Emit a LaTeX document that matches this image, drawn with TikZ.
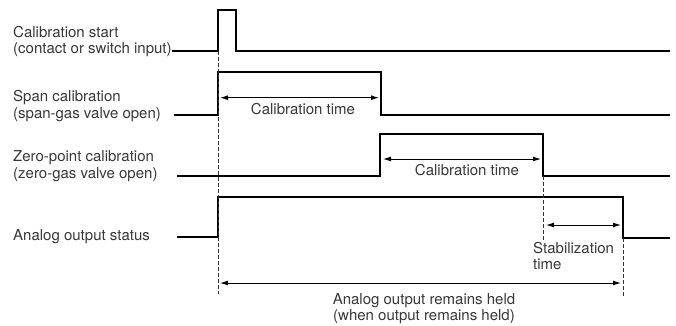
\documentclass[tikz,border=0pt]{standalone}
\usepackage{fontspec}
\setmainfont{TeX Gyre Heros}
\usetikzlibrary{arrows.meta}
\begin{document}
\begin{tikzpicture}[x=1pt,y=-1pt,
  signal/.style={line width=2pt,line join=miter,black},
  guide/.style={line width=0.9pt,dash pattern=on 4pt off 2pt,black!80},
  span/.style={line width=1pt,black,{Latex[length=8pt,width=5pt]}-{Latex[length=8pt,width=5pt]}},
  lbl/.style={font=\fontsize{15}{16.5}\selectfont,text=black!78,inner sep=0pt,align=left},
  clbl/.style={font=\fontsize{15}{16.5}\selectfont,text=black!78,inner sep=0pt,align=center}]
\useasboundingbox[fill=white] (0,0) rectangle (676,325);
% coordinates
\coordinate (s1a) at (172,51);  \coordinate (s1b) at (218,51);
\coordinate (s1c) at (218,10);  \coordinate (s1d) at (236,10);
\coordinate (s1e) at (236,51);  \coordinate (s1f) at (670,51);
\coordinate (s2a) at (174,115); \coordinate (s2b) at (218,115);
\coordinate (s2c) at (218,72);  \coordinate (s2d) at (381,72);
\coordinate (s2e) at (381,115); \coordinate (s2f) at (670,115);
\coordinate (s3a) at (177,175.5); \coordinate (s3b) at (380,175.5);
\coordinate (s3c) at (380,134);   \coordinate (s3d) at (543,134);
\coordinate (s3e) at (543,175.5); \coordinate (s3f) at (670,175.5);
\coordinate (s4a) at (177,237); \coordinate (s4b) at (218,237);
\coordinate (s4c) at (218,197); \coordinate (s4d) at (623,197);
\coordinate (s4e) at (623,238); \coordinate (s4f) at (670,238);
% signals
\draw[signal] (s1a) -- (s1b) -- (s1c) -- (s1d) -- (s1e) -- (s1f);
\draw[signal] (s2a) -- (s2b) -- (s2c) -- (s2d) -- (s2e) -- (s2f);
\draw[signal] (s3a) -- (s3b) -- (s3c) -- (s3d) -- (s3e) -- (s3f);
\draw[signal] (s4a) -- (s4b) -- (s4c) -- (s4d) -- (s4e) -- (s4f);
% guides
\coordinate (g1a) at (218,51);   \coordinate (g1b) at (218,294);
\coordinate (g2a) at (543,176);  \coordinate (g2b) at (543,242);
\coordinate (g3a) at (623,238);  \coordinate (g3b) at (623,297);
\draw[guide] (g1a) -- (g1b);
\draw[guide] (g2a) -- (g2b);
\draw[guide] (g3a) -- (g3b);
% arrows
\coordinate (a1l) at (220,97.7); \coordinate (a1r) at (379,97.7);
\coordinate (a2l) at (383,159);  \coordinate (a2r) at (541,159);
\coordinate (a3l) at (546,225);  \coordinate (a3r) at (621,225);
\coordinate (a4l) at (220,283);  \coordinate (a4r) at (621,283);
\draw[span] (a1l) -- (a1r);
\draw[span] (a2l) -- (a2r);
\draw[span] (a3l) -- (a3r);
\draw[span] (a4l) -- (a4r);
% labels
\node[lbl,anchor=west] (l1) at (13,41.5) {Calibration start\\(contact or switch input)};
\node[lbl,anchor=west] (l2) at (13,106) {Span calibration\\(span-gas valve open)};
\node[lbl,anchor=west] (l3) at (13,166) {Zero-point calibration\\(zero-gas valve open)};
\node[lbl,anchor=west] (l4) at (13,237) {Analog output status};
\node[clbl] (t1) at (303,109) {Calibration time};
\node[clbl] (t2) at (467,170) {Calibration time};
\node[lbl,anchor=west] (t3) at (533,256) {Stabilization\\time};
\node[clbl] (t4) at (424,308.5) {Analog output remains held\\(when output remains held)};
\end{tikzpicture}
\end{document}
